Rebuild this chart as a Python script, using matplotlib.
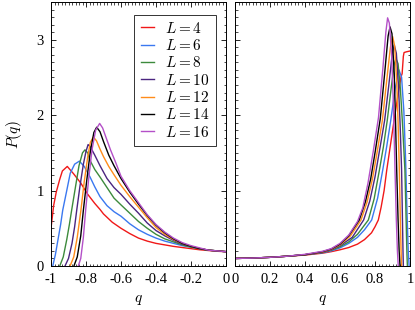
import matplotlib
matplotlib.use("Agg")
import matplotlib.pyplot as plt
from matplotlib.ticker import MultipleLocator, FixedLocator, FixedFormatter

plt.rcParams['font.family'] = ['Liberation Serif', 'DejaVu Serif']
plt.rcParams['mathtext.fontset'] = 'cm'
plt.rcParams['axes.unicode_minus'] = False

sizes = [4, 6, 8, 10, 12, 14, 16]
colors = ['#f01818', '#3a78f0', '#3c8a3c', '#4b2580', '#ff8c1a', '#000000', '#b450c8']

# left panel, q in [-1, 0]
q_left_L4 = [-1.0, -0.985, -0.97, -0.95, -0.935, -0.907, -0.87, -0.83, -0.79, -0.75, -0.72, -0.70, -0.65, -0.60,
             -0.55, -0.50, -0.45, -0.40, -0.35, -0.30, -0.25, -0.20, -0.15, -0.10, -0.05, 0.0]
p_left_L4 = [0.50, 0.80, 0.98, 1.15, 1.26, 1.32, 1.22, 1.10, 0.95, 0.83, 0.75, 0.69, 0.58, 0.50,
             0.43, 0.37, 0.33, 0.30, 0.28, 0.26, 0.245, 0.23, 0.215, 0.205, 0.195, 0.19]

q_left_L6 = [-0.99, -0.975, -0.96, -0.945, -0.933, -0.91, -0.89, -0.865, -0.838, -0.81, -0.777, -0.75, -0.72,
             -0.68, -0.64, -0.60, -0.55, -0.50, -0.45, -0.40, -0.35, -0.30, -0.25, -0.20, -0.15, -0.10, -0.05, 0.0]
p_left_L6 = [0.0, 0.15, 0.35, 0.55, 0.74, 1.00, 1.23, 1.35, 1.39, 1.32, 1.18, 1.05, 0.92,
             0.80, 0.72, 0.66, 0.56, 0.48, 0.42, 0.37, 0.33, 0.30, 0.27, 0.25, 0.23, 0.21, 0.20, 0.19]

q_left_L8 = [-0.95, -0.93, -0.91, -0.895, -0.882, -0.86, -0.84, -0.82, -0.806, -0.79, -0.777, -0.75, -0.72,
             -0.68, -0.64, -0.60, -0.55, -0.50, -0.45, -0.40, -0.35, -0.30, -0.25, -0.20, -0.15, -0.10, -0.05, 0.0]
p_left_L8 = [0.0, 0.12, 0.35, 0.55, 0.74, 1.05, 1.33, 1.50, 1.54, 1.50, 1.40, 1.28, 1.18,
             1.04, 0.90, 0.81, 0.70, 0.59, 0.50, 0.42, 0.36, 0.32, 0.28, 0.25, 0.23, 0.21, 0.20, 0.19]

q_left_L10 = [-0.92, -0.90, -0.88, -0.865, -0.853, -0.835, -0.815, -0.80, -0.788, -0.775, -0.75, -0.72,
              -0.68, -0.64, -0.60, -0.55, -0.50, -0.45, -0.40, -0.35, -0.30, -0.25, -0.20, -0.15, -0.10, -0.05, 0.0]
p_left_L10 = [0.0, 0.10, 0.30, 0.52, 0.74, 1.05, 1.35, 1.52, 1.61, 1.58, 1.47, 1.33,
              1.16, 1.04, 0.95, 0.82, 0.70, 0.57, 0.47, 0.40, 0.34, 0.29, 0.26, 0.23, 0.21, 0.20, 0.19]

q_left_L12 = [-0.891, -0.87, -0.85, -0.829, -0.81, -0.79, -0.775, -0.758, -0.74, -0.72, -0.70, -0.67, -0.64,
              -0.60, -0.55, -0.50, -0.45, -0.40, -0.35, -0.30, -0.25, -0.20, -0.15, -0.10, -0.05, 0.0]
p_left_L12 = [0.0, 0.12, 0.38, 0.74, 1.12, 1.45, 1.64, 1.71, 1.66, 1.55, 1.45, 1.32, 1.21,
              1.07, 0.92, 0.78, 0.64, 0.51, 0.42, 0.35, 0.30, 0.26, 0.23, 0.21, 0.20, 0.19]

q_left_L14 = [-0.869, -0.85, -0.83, -0.815, -0.795, -0.775, -0.755, -0.739, -0.72, -0.70, -0.67, -0.64,
              -0.60, -0.55, -0.50, -0.45, -0.40, -0.35, -0.30, -0.25, -0.20, -0.15, -0.10, -0.05, 0.0]
p_left_L14 = [0.0, 0.12, 0.40, 0.74, 1.15, 1.52, 1.77, 1.84, 1.78, 1.65, 1.47, 1.33,
              1.16, 0.98, 0.82, 0.67, 0.54, 0.44, 0.36, 0.30, 0.26, 0.23, 0.21, 0.20, 0.19]

q_left_L16 = [-0.844, -0.83, -0.815, -0.802, -0.785, -0.765, -0.745, -0.722, -0.705, -0.685, -0.66, -0.63,
              -0.60, -0.55, -0.50, -0.45, -0.40, -0.35, -0.30, -0.25, -0.20, -0.15, -0.10, -0.05, 0.0]
p_left_L16 = [0.0, 0.10, 0.38, 0.74, 1.15, 1.55, 1.80, 1.89, 1.83, 1.70, 1.54, 1.37,
              1.19, 1.00, 0.84, 0.68, 0.55, 0.45, 0.37, 0.31, 0.27, 0.24, 0.21, 0.20, 0.19]

# right panel, q in [0, 1]
q_right_L4 = [0, 0.1, 0.2, 0.3, 0.4, 0.5, 0.55, 0.6, 0.65, 0.7, 0.74, 0.78, 0.80, 0.819, 0.835, 0.852, 0.867,
              0.888, 0.909, 0.93, 0.949, 0.955, 0.962, 0.966, 0.98, 1.0]
p_right_L4 = [0.10, 0.105, 0.115, 0.13, 0.145, 0.17, 0.19, 0.215, 0.245, 0.29, 0.35, 0.44, 0.52, 0.61, 0.78, 1.00, 1.27,
              1.60, 1.93, 2.25, 2.51, 2.55, 2.78, 2.83, 2.84, 2.85]

q_right_L6 = [0, 0.1, 0.2, 0.3, 0.4, 0.5, 0.55, 0.6, 0.65, 0.7, 0.74, 0.781, 0.815, 0.844, 0.868, 0.89, 0.915,
              0.937, 0.952, 0.965, 0.975, 0.983, 0.99, 0.995]
p_right_L6 = [0.10, 0.105, 0.115, 0.13, 0.15, 0.175, 0.20, 0.24, 0.30, 0.38, 0.48, 0.61, 0.90, 1.27, 1.60, 1.93, 2.35,
              2.60, 2.50, 2.05, 1.40, 0.70, 0.20, 0.0]

q_right_L8 = [0, 0.1, 0.2, 0.3, 0.4, 0.5, 0.55, 0.6, 0.65, 0.7, 0.762, 0.795, 0.825, 0.848, 0.87, 0.892, 0.91,
              0.92, 0.932, 0.945, 0.958, 0.971, 0.978, 0.982, 0.985]
p_right_L8 = [0.10, 0.105, 0.115, 0.13, 0.15, 0.18, 0.21, 0.255, 0.32, 0.42, 0.61, 0.89, 1.27, 1.58, 1.93, 2.35, 2.68,
              2.75, 2.68, 2.35, 1.85, 1.27, 0.60, 0.20, 0.0]

q_right_L10 = [0, 0.1, 0.2, 0.3, 0.4, 0.5, 0.55, 0.6, 0.67, 0.735, 0.77, 0.80, 0.825, 0.855, 0.878, 0.898, 0.91,
               0.922, 0.934, 0.944, 0.952, 0.957, 0.96, 0.962]
p_right_L10 = [0.10, 0.105, 0.115, 0.13, 0.15, 0.18, 0.215, 0.27, 0.38, 0.61, 0.86, 1.18, 1.52, 1.93, 2.38, 2.80, 2.93,
               2.82, 2.40, 1.85, 1.27, 0.60, 0.20, 0.0]

q_right_L12 = [0, 0.1, 0.2, 0.3, 0.4, 0.5, 0.55, 0.6, 0.66, 0.72, 0.755, 0.785, 0.81, 0.842, 0.865, 0.888, 0.901,
               0.912, 0.924, 0.932, 0.939, 0.945, 0.949, 0.952]
p_right_L12 = [0.10, 0.105, 0.115, 0.13, 0.15, 0.185, 0.22, 0.28, 0.40, 0.61, 0.85, 1.15, 1.48, 1.93, 2.42, 2.90, 3.04,
               2.92, 2.45, 1.90, 1.27, 0.60, 0.20, 0.0]

q_right_L14 = [0, 0.1, 0.2, 0.3, 0.4, 0.5, 0.55, 0.6, 0.65, 0.71, 0.745, 0.775, 0.80, 0.83, 0.855, 0.875, 0.886,
               0.897, 0.91, 0.917, 0.924, 0.932, 0.938, 0.943]
p_right_L14 = [0.10, 0.105, 0.115, 0.13, 0.15, 0.19, 0.225, 0.29, 0.40, 0.61, 0.85, 1.15, 1.50, 1.95, 2.55, 3.05, 3.17,
               3.08, 2.55, 1.95, 1.27, 0.60, 0.20, 0.0]

q_right_L16 = [0, 0.1, 0.2, 0.3, 0.4, 0.5, 0.55, 0.6, 0.65, 0.7, 0.73, 0.76, 0.79, 0.82, 0.845, 0.862, 0.872,
               0.882, 0.895, 0.905, 0.914, 0.922, 0.928, 0.933]
p_right_L16 = [0.10, 0.105, 0.115, 0.13, 0.155, 0.195, 0.23, 0.30, 0.41, 0.59, 0.77, 1.10, 1.52, 1.97, 2.62, 3.10, 3.29,
               3.22, 2.80, 2.15, 1.30, 0.60, 0.20, 0.0]

left_q = [q_left_L4, q_left_L6, q_left_L8, q_left_L10, q_left_L12, q_left_L14, q_left_L16]
left_p = [p_left_L4, p_left_L6, p_left_L8, p_left_L10, p_left_L12, p_left_L14, p_left_L16]
right_q = [q_right_L4, q_right_L6, q_right_L8, q_right_L10, q_right_L12, q_right_L14, q_right_L16]
right_p = [p_right_L4, p_right_L6, p_right_L8, p_right_L10, p_right_L12, p_right_L14, p_right_L16]

left_ticks = [-1, -0.8, -0.6, -0.4, -0.2, 0]
left_labels = ['-1', '-0.8', '-0.6', '-0.4', '-0.2', '0']
right_ticks = [0, 0.2, 0.4, 0.6, 0.8, 1]
right_labels = ['0', '0.2', '0.4', '0.6', '0.8', '1']
y_ticks = [0, 1, 2, 3]

fig = plt.figure(figsize=(4.15, 3.10), dpi=100)
ax1 = fig.add_axes([51/415, 44/310, 175/415, 264/310])
ax2 = fig.add_axes([235/415, 44/310, 175/415, 264/310])

for L, c, q, p in zip(sizes, colors, left_q, left_p):
    ax1.plot(q, p, color=c, lw=1.0, label=r'$L = %d$' % L)
for L, c, q, p in zip(sizes, colors, right_q, right_p):
    ax2.plot(q, p, color=c, lw=1.0)

for ax in (ax1, ax2):
    ax.set_ylim(0, 3.5)
    ax.yaxis.set_major_locator(FixedLocator(y_ticks))
    ax.yaxis.set_minor_locator(MultipleLocator(0.1))
    ax.xaxis.set_minor_locator(MultipleLocator(0.02))
    ax.tick_params(which='both', direction='in', top=True, right=True, labelsize=10.5, pad=5)
    ax.tick_params(which='major', length=3.5, width=0.6)
    ax.tick_params(which='minor', length=1.8, width=0.5)
    for s in ax.spines.values():
        s.set_linewidth(0.7)
    ax.set_xlabel(r'$q$', fontsize=11, labelpad=5)

ax1.set_xlim(-1, 0)
ax1.xaxis.set_major_locator(FixedLocator(left_ticks))
ax1.xaxis.set_major_formatter(FixedFormatter(left_labels))
ax1.set_ylabel(r'$P(q)$', fontsize=11, labelpad=9)

ax2.set_xlim(0, 1)
ax2.xaxis.set_major_locator(FixedLocator(right_ticks))
ax2.xaxis.set_major_formatter(FixedFormatter(right_labels))
ax2.tick_params(labelleft=False)

leg = ax1.legend(loc='upper right', bbox_to_anchor=(0.941, 0.952), fontsize=11, frameon=True, fancybox=False,
                 handlelength=0.9, handletextpad=0.7, labelspacing=0.15, borderpad=0.4, borderaxespad=0)
leg.get_frame().set_edgecolor('black')
leg.get_frame().set_linewidth(0.7)

fig.savefig('out.png', dpi=100)
